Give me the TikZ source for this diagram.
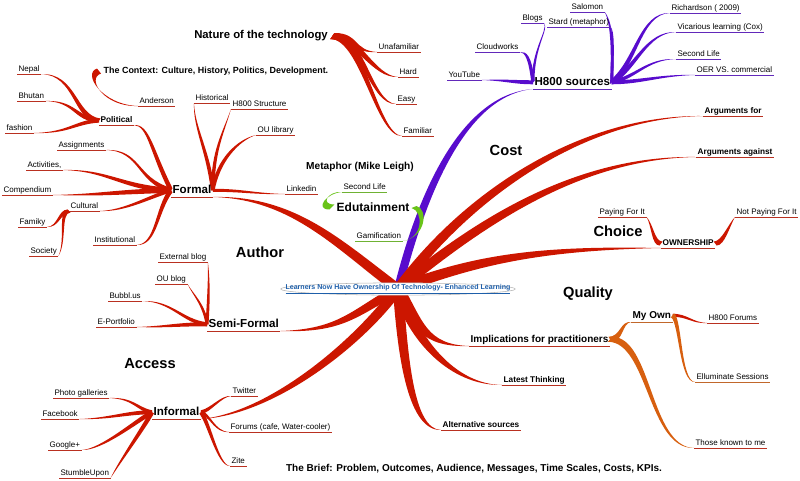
\documentclass[tikz,border=0pt]{standalone}
\usepackage{fontspec}
\setmainfont{Liberation Sans}
\usetikzlibrary{calc, backgrounds}
\definecolor{mapred}{RGB}{204,22,0}
\definecolor{mapviolet}{RGB}{88,12,205}
\definecolor{mapgreen}{RGB}{105,195,25}
\definecolor{maporange}{RGB}{215,95,15}
\definecolor{mapblue}{RGB}{30,95,170}

% tapered branch: colour, start, half width at start, out control, in control, end
\newcommand{\growbranch}[6][mapred]{%
  \fill[#1] ($(#2)+(#3)$) .. controls ($(#2)+(#3)+(#4)$) and ($(#6)+(#5)+0.5*(#3)$) .. (#6)
    .. controls ($(#6)+(#5)-0.5*(#3)$) and ($(#2)-(#3)+(#4)$) .. ($(#2)-(#3)$) -- cycle;}

\tikzset{
  twig/.style={font=\fontsize{6}{7}\selectfont, anchor=south west,
    inner xsep=1pt, inner ysep=0.3pt, text height=4.4pt, text depth=1.3pt,
    append after command={(\tikzlastnode.south west) edge[draw=#1!75!gray, line width=0.5pt] (\tikzlastnode.south east)}},
  twig/.default=mapred,
  knot/.style={twig=#1, font=\bfseries\fontsize{6.2}{7}\selectfont},
  knot/.default=mapred,
  limb/.style={twig=#1, font=\bfseries\fontsize{8.7}{10}\selectfont,
    text height=6.3pt, text depth=2.2pt, inner ysep=0.6pt},
  limb/.default=mapred,
  theme/.style={font=\bfseries\fontsize{11}{13}\selectfont}
}

\begin{document}
\begin{tikzpicture}[x=0.75pt, y=-0.75pt]
\useasboundingbox (0,0) rectangle (800,480);

% centre
\filldraw[fill=white, draw=gray!60, line width=0.4pt] (398,289) ellipse [x radius=88pt, y radius=4.6pt];
\node[font=\bfseries\fontsize{5.3}{6}\selectfont, text=mapblue, inner sep=0pt] (core) at (398,289)
  {\underline{Learners Now Have Ownership Of Technology- Enhanced Learning}};

% floating headings
\node[theme] (cost) at (506,150) {Cost};
\node[theme] (choice) at (618,231) {Choice};
\node[theme] (quality) at (588,294) {Quality};
\node[theme] (author) at (260,252) {Author};
\node[theme] (access) at (150,364) {Access};
\node[font=\bfseries\fontsize{8.5}{10}\selectfont] (nature) at (261,36) {Nature of the technology};
\node[font=\bfseries\fontsize{6.7}{8}\selectfont, anchor=west] (context) at (99,71) {The Context: Culture, History, Politics, Development.};
\node[font=\bfseries\fontsize{7.6}{9}\selectfont] (metaphor) at (360,167) {Metaphor (Mike Leigh)};
\node[font=\bfseries\fontsize{9}{11}\selectfont] (edu) at (373,207) {Edutainment};
\node[font=\bfseries\fontsize{7.5}{9}\selectfont] (brief) at (474,469) {The Brief: Problem, Outcomes, Audience, Messages, Time Scales, Costs, KPIs.};

% nature of the technology
\node[twig] (una) at (377,52) {Unafamiliar};
\node[twig] (hard) at (398,77) {Hard};
\node[twig] (easy) at (396,104) {Easy};
\node[twig] (fam) at (402,136) {Familiar};
\node[twig] (anderson) at (138,106) {Anderson};

% formal
\node[limb] (formal) at (171,197) {Formal};
\node[knot] (political) at (99,125) {Political};
\node[twig] (nepal) at (17,74) {Nepal};
\node[twig] (bhutan) at (17,101) {Bhutan};
\node[twig] (fashion) at (5,133) {fashion};
\node[twig] (assign) at (57,150) {Assignments};
\node[twig] (activ) at (26,170) {Activities,};
\node[twig] (comp) at (2,195) {Compendium};
\node[twig] (cult) at (69,211) {Cultural};
\node[twig] (famiky) at (18,227) {Famiky};
\node[twig] (society) at (29,256) {Society};
\node[twig] (inst) at (93,245) {Institutional};
\node[twig] (hist) at (194,103) {Historical};
\node[twig] (h800s) at (231,109) {H800 Structure};
\node[twig] (oulib) at (256,135) {OU library};
\node[twig] (linked) at (285,194) {Linkedin};

% semi-formal
\node[limb] (semi) at (207,331) {Semi-Formal};
\node[twig] (ext) at (158,262) {External blog};
\node[twig] (oublog) at (155,284) {OU blog};
\node[twig] (bubbl) at (108,301) {Bubbl.us};
\node[twig] (eport) at (96,327) {E-Portfolio};

% informal
\node[limb] (informal) at (152,419) {Informal};
\node[twig] (photo) at (53,398) {Photo galleries};
\node[twig] (fb) at (41,419) {Facebook};
\node[twig] (gplus) at (48,450) {Google+};
\node[twig] (stumble) at (59,478) {StumbleUpon};
\node[twig] (twitter) at (231,396) {Twitter};
\node[twig] (forums) at (229,432) {Forums (cafe, Water-cooler)};
\node[twig] (zite) at (230,466) {Zite};

% edutainment
\node[twig=mapgreen] (edsl) at (342,192) {Second Life};
\node[twig=mapgreen] (gamif) at (355,241) {Gamification};

% h800 sources
\node[limb=mapviolet] (h800) at (533,89) {H800 sources};
\node[twig=mapviolet] (youtube) at (447,80) {YouTube};
\node[twig=mapviolet] (cloud) at (475,52) {Cloudworks};
\node[twig=mapviolet] (blogs) at (521,23) {Blogs};
\node[twig=mapviolet] (salomon) at (570,12) {Salomon};
\node[twig=mapviolet] (stard) at (547,27) {Stard (metaphor)};
\node[twig=mapviolet] (rich) at (670,13) {Richardson ( 2009)};
\node[twig=mapviolet] (vic) at (676,32) {Vicarious learning (Cox)};
\node[twig=mapviolet] (secl) at (676,59) {Second Life};
\node[twig=mapviolet] (oer) at (695,75) {OER VS. commercial};

% cost, choice, quality
\node[knot] (argfor) at (703,116) {Arguments for};
\node[knot] (against) at (696,157) {Arguments against};
\node[knot] (own) at (661,248) {OWNERSHIP};
\node[twig] (pay) at (598,217) {Paying For It};
\node[twig] (notpay) at (735,217) {Not Paying For It};
\node[limb, font=\bfseries\fontsize{7.5}{9}\selectfont] (impl) at (469,346) {Implications for practitioners};
\node[limb=maporange, font=\bfseries\fontsize{7.5}{9}\selectfont] (myown) at (631,322) {My Own};
\node[twig] (h800f) at (707,323) {H800 Forums};
\node[twig=maporange] (ellum) at (695,382) {Elluminate Sessions};
\node[twig] (those) at (694,448) {Those known to me};
\node[knot] (latest) at (502,385) {Latest Thinking};
\node[knot] (alt) at (441,430) {Alternative sources};

\begin{scope}[on background layer]
  % main branches
  \growbranch[mapviolet]{core.center}{4,1}{30,-120}{-60,5}{h800.south west}
  \growbranch{core.center}{3,-4}{-60,-45}{80,0}{formal.south east}
  \growbranch{core.center}{2,4}{-45,25}{60,0}{semi.south east}
  \growbranch{core.center}{4,3}{-40,55}{70,-5}{informal.south east}
  \growbranch{core.center}{5,-1.5}{5,70}{-30,0}{alt.south west}
  \growbranch{core.center}{5,-1.5}{15,50}{-50,0}{latest.south west}
  \growbranch{core.center}{5,-3}{20,35}{-45,0}{impl.south west}
  \growbranch{core.center}{2,5}{80,-30}{-120,0}{own.south west}
  \growbranch{core.center}{3,4}{80,-65}{-120,0}{against.south west}
  \growbranch{core.center}{4,3}{70,-95}{-120,0}{argfor.south west}

  % formal
  \growbranch{formal.west}{-1.5,2}{-20,-40}{15,0}{political.south east}
  \growbranch{formal.west}{0,2.5}{-35,-10}{35,0}{assign.south east}
  \growbranch{formal.west}{0,2.5}{-50,-3}{45,0}{activ.south east}
  \growbranch{formal.west}{0,2.5}{-60,2}{50,0}{comp.south east}
  \growbranch{formal.west}{0,2}{-25,8}{25,0}{cult.south east}
  \growbranch{formal.west}{1.5,2}{-15,20}{20,0}{inst.south east}
  \growbranch{formal.east}{2,0}{-5,-40}{0,25}{hist.south west}
  \growbranch{formal.east}{1.8,0}{0,-40}{-8,25}{h800s.south west}
  \growbranch{formal.east}{1.5,1.5}{5,-30}{-18,5}{oulib.south west}
  \growbranch{formal.east}{0,1.5}{30,0}{-30,0}{linked.south west}
  \growbranch{political.west}{-1.5,2}{-25,-3}{35,0}{nepal.south east}
  \growbranch{political.west}{-1,2}{-25,-2}{30,0}{bhutan.south east}
  \growbranch{political.west}{0,2}{-25,2}{35,0}{fashion.south east}
  \growbranch{cult.south west}{1.2,1.5}{-10,0}{12,0}{famiky.south east}
  \growbranch{cult.south west}{1.5,1.5}{-10,0}{8,-15}{society.south east}

  % context and nature
  \growbranch{context.west}{2,2.5}{-15,5}{-35,0}{anderson.south west}
  \growbranch{nature.east}{2,-3}{25,0}{-25,0}{una.south west}
  \growbranch{nature.east}{2,-3}{25,0}{-25,0}{hard.south west}
  \growbranch{nature.east}{2,-3}{30,0}{-25,0}{easy.south west}
  \growbranch{nature.east}{2,-3}{30,0}{-25,0}{fam.south west}

  % h800 sources
  \growbranch[mapviolet]{h800.west}{0,2}{-20,0}{25,0}{youtube.south east}
  \growbranch[mapviolet]{h800.west}{1.5,-1.5}{-3,-25}{6,0}{cloud.south east}
  \growbranch[mapviolet]{h800.west}{1.5,-1.5}{0,-35}{4,8}{blogs.south east}
  \growbranch[mapviolet]{h800.east}{1.5,-1.5}{2,-45}{5,8}{salomon.south east}
  \growbranch[mapviolet]{h800.east}{1.5,-1.5}{1,-35}{3,5}{stard.south east}
  \growbranch[mapviolet]{h800.east}{1.5,2}{25,-20}{-30,0}{rich.south west}
  \growbranch[mapviolet]{h800.east}{1.2,2}{25,-15}{-30,0}{vic.south west}
  \growbranch[mapviolet]{h800.east}{0,2}{25,-5}{-30,0}{secl.south west}
  \growbranch[mapviolet]{h800.east}{0,2}{30,0}{-35,0}{oer.south west}

  % ownership and implications
  \growbranch{own.west}{-1.5,2}{-8,0}{6,8}{pay.south east}
  \growbranch{own.east}{1.5,2}{8,0}{-6,8}{notpay.south west}
  \growbranch[maporange]{impl.east}{1.5,2.5}{12,0}{-10,0}{myown.south west}
  \growbranch[maporange]{impl.east}{2,-2.5}{40,0}{-45,0}{those.south west}
  \growbranch{myown.east}{0,1.5}{15,0}{-15,0}{h800f.south west}
  \growbranch[maporange]{myown.east}{1.5,-2}{8,5}{-15,0}{ellum.south west}

  % semi-formal and informal
  \growbranch{semi.west}{1.5,0}{2,-30}{1,15}{ext.south east}
  \growbranch{semi.west}{1.5,0}{-3,-20}{5,10}{oublog.south east}
  \growbranch{semi.west}{0,2}{-25,-3}{30,0}{bubbl.south east}
  \growbranch{semi.west}{0,2}{-30,0}{30,0}{eport.south east}
  \growbranch{informal.west}{0,2}{-15,-3}{25,0}{photo.south east}
  \growbranch{informal.west}{0,2}{-25,0}{30,0}{fb.south east}
  \growbranch{informal.west}{1,2}{-15,8}{20,0}{gplus.south east}
  \growbranch{informal.west}{2,1}{-8,15}{8,-15}{stumble.south east}
  \growbranch{informal.east}{0,2}{10,-2}{-10,0}{twitter.south west}
  \growbranch{informal.east}{0,2}{10,3}{-15,0}{forums.south west}
  \growbranch{informal.east}{1.5,-1.5}{8,10}{-12,0}{zite.south west}

  % edutainment
  \growbranch[mapgreen]{edu.west}{-2.5,2.5}{-15,0}{-15,0}{edsl.south west}
  \growbranch[mapgreen]{edu.east}{2.5,-1}{12,3}{22,-3}{gamif.south east}
\end{scope}
\end{tikzpicture}
\end{document}
